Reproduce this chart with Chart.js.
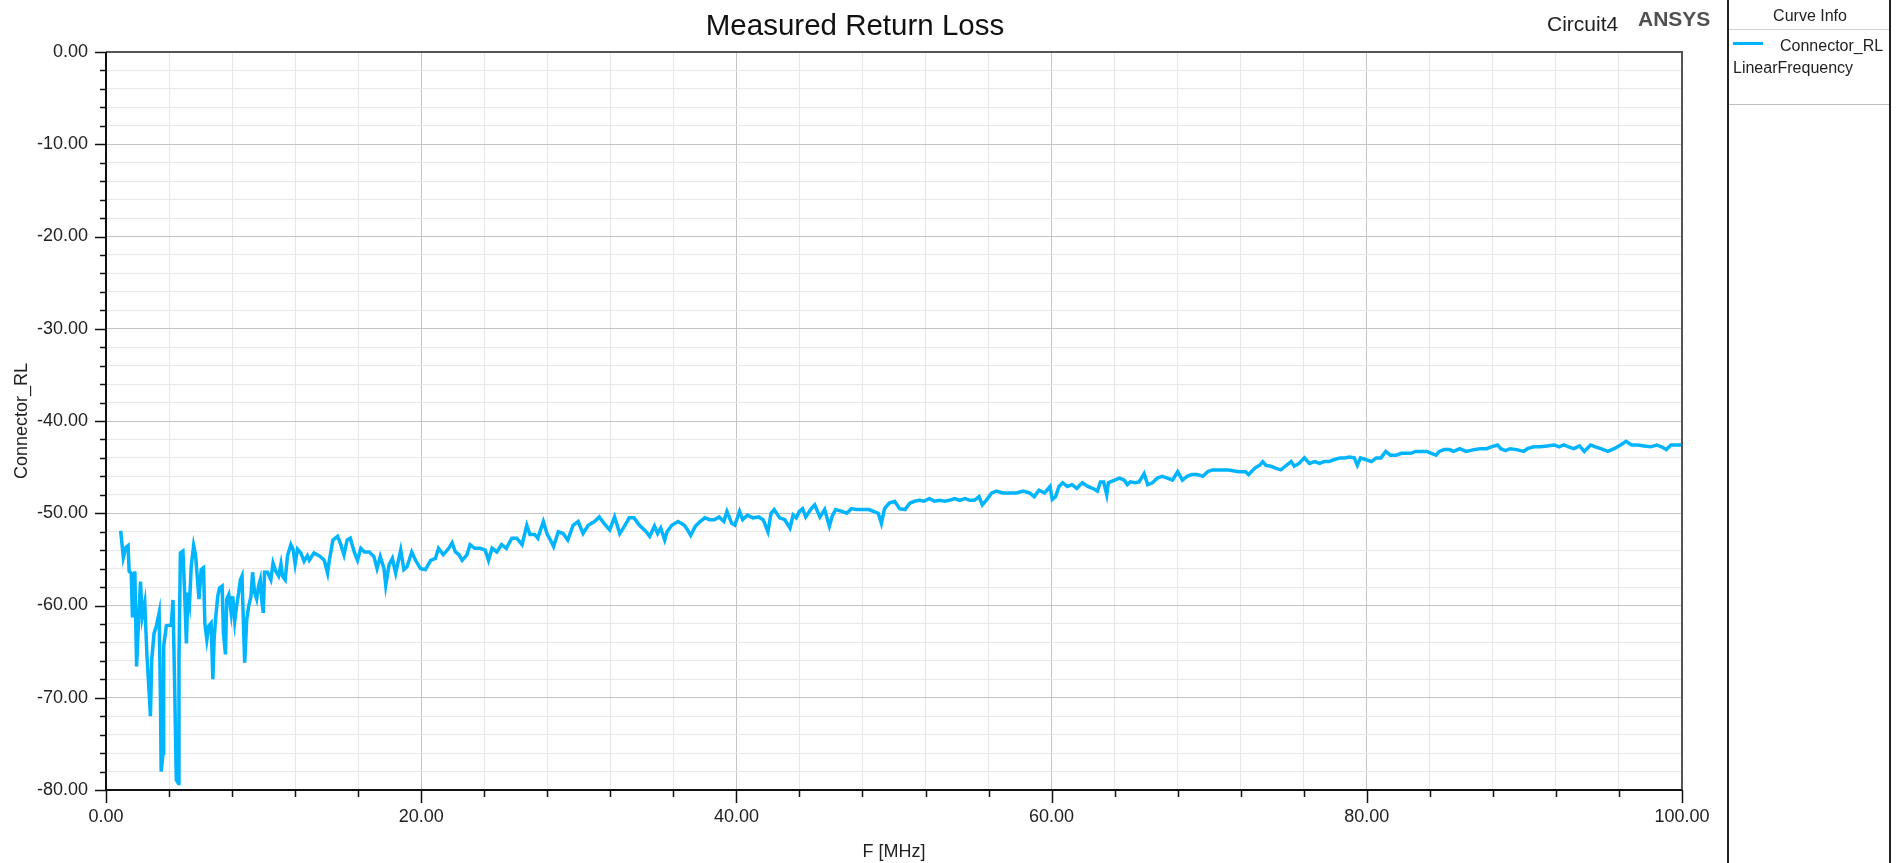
<!DOCTYPE html>
<html>
<head>
<meta charset="utf-8">
<title>Measured Return Loss</title>
<script src="https://cdn.jsdelivr.net/npm/chart.js@4/dist/chart.umd.min.js"></script>
<style>
  body { margin: 0; background: #fff; font-family: "Liberation Sans", Arial, sans-serif; }
  #wrap { position: relative; width: 1896px; height: 863px; overflow: hidden; }
  #chart { position: absolute; left: 0; top: 0; }
  .txt { position: absolute; line-height: 1; white-space: nowrap; color: #222; }
  #title { left: 655px; width: 400px; top: 10px; font-size: 29.5px; text-align: center; color: #111; }
  #circuit { left: 1547px; top: 13px; font-size: 21px; }
  #ansys { left: 1638px; top: 8px; font-size: 21px; font-weight: bold; color: #505050; }
  #panel { position: absolute; left: 1727px; top: 0; width: 164px; height: 863px;
           box-sizing: border-box; border-left: 2px solid #222; border-right: 2px solid #222; }
  .rule { position: absolute; left: 0; right: 0; height: 1px; }
  #swatch { position: absolute; left: 1733px; top: 41.5px; width: 30px; height: 3px; background: #00B4FF; }
</style>
</head>
<body>
<div id="wrap">
  <canvas id="chart" width="1896" height="863"></canvas>
  <div class="txt" id="title">Measured Return Loss</div>
  <div class="txt" id="circuit">Circuit4</div>
  <div class="txt" id="ansys">ANSYS</div>
  <div id="panel">
    <div class="rule" style="top:29px;background:#cfcfcf"></div>
    <div class="rule" style="top:104px;background:#bdbdbd"></div>
  </div>
  <div class="txt" style="left:1772px;width:76px;text-align:center;top:8px;font-size:16px">Curve Info</div>
  <div id="swatch"></div>
  <div class="txt" style="left:1780px;top:38px;font-size:16px">Connector_RL</div>
  <div class="txt" style="left:1733px;top:60px;font-size:16px">LinearFrequency</div>
</div>
<script>
// F [MHz]
const freqMHz = [
  0.93, 1.1, 1.26, 1.4, 1.47, 1.6, 1.68, 1.83, 1.94, 2.1, 2.19, 2.3, 2.46, 2.6, 2.74, 2.82, 2.9, 3.05, 3.2, 3.37,
  3.45, 3.5, 3.62, 3.66, 3.83, 4.15, 4.25, 4.36, 4.46, 4.6, 4.63, 4.72, 4.88, 4.99, 5.1, 5.2, 5.3, 5.41, 5.56, 5.68,
  5.77, 5.9, 6.04, 6.19, 6.27, 6.4, 6.53, 6.67, 6.78, 6.86, 6.95, 7.09, 7.2, 7.37, 7.45, 7.58, 7.66, 7.79, 7.94, 8.04,
  8.17, 8.3, 8.42, 8.53, 8.63, 8.72, 8.8, 8.93, 9.05, 9.2, 9.3, 9.43, 9.56, 9.68, 9.79, 9.9, 9.98, 10.06, 10.25, 10.46,
  10.6, 10.78, 10.95, 11.1, 11.2, 11.37, 11.52, 11.73, 11.87, 12.0, 12.15, 12.36, 12.57, 12.78,
  12.9, 13.2, 13.6, 13.85, 14.06, 14.17, 14.4, 14.7, 14.9, 15.1, 15.3, 15.5, 15.75, 15.96, 16.17, 16.4, 16.7, 17.0,
  17.2, 17.4, 17.64, 17.75, 17.96, 18.17, 18.38, 18.7, 18.9, 19.1, 19.4, 19.64, 19.96, 20.27, 20.6, 20.9, 21.1, 21.4,
  21.75, 21.96, 22.17, 22.4, 22.6, 22.9, 23.1, 23.4, 23.75, 24.06, 24.27, 24.5, 24.8, 25.1, 25.4, 25.75, 26.06, 26.4,
  26.7, 26.9, 27.2, 27.4, 27.75, 28.0, 28.2, 28.4, 28.7, 29.0, 29.3, 29.64, 29.96, 30.27, 30.6, 31.0, 31.3, 31.6,
  31.96, 32.27, 32.6, 32.9, 33.2, 33.5, 33.85, 34.27,
  34.5, 34.8, 35.0, 35.2, 35.45, 35.6, 35.9, 36.3, 36.7, 36.9, 37.1, 37.4, 37.7, 38.0, 38.3, 38.6, 38.9, 39.2, 39.4,
  39.7, 39.9, 40.2, 40.4, 40.7, 41.05, 41.4, 41.7, 42.0, 42.2, 42.4, 42.75, 43.07, 43.4, 43.6, 43.8, 44.0, 44.2, 44.4,
  44.75, 44.97, 45.3, 45.6, 45.9, 46.1, 46.3, 46.7, 47.0, 47.3, 47.6, 48.0, 48.4, 48.7, 49.0, 49.2, 49.4, 49.7, 50.04,
  50.36, 50.7, 51.0, 51.3, 51.6, 51.9, 52.25, 52.57, 52.9, 53.2, 53.5, 53.85, 54.16, 54.5, 54.8, 55.1, 55.4, 55.6,
  55.85, 56.2, 56.5, 56.9, 57.3, 57.76, 58.2, 58.6, 58.9, 59.2, 59.56, 59.9,
  60.04, 60.25, 60.47, 60.7, 61.0, 61.3, 61.6, 61.95, 62.3, 62.6, 62.9, 63.1, 63.3, 63.5, 63.6, 64.0, 64.3, 64.6,
  64.8, 65.0, 65.3, 65.55, 65.87, 66.1, 66.4, 66.7, 67.0, 67.35, 67.67, 68.0, 68.3, 68.6, 68.9, 69.25, 69.6, 69.9,
  70.2, 70.5, 70.85, 71.2, 71.5, 71.9, 72.3, 72.5, 72.9, 73.2, 73.4, 73.6, 73.9, 74.2, 74.55, 74.9, 75.2, 75.4, 75.7,
  76.04, 76.36, 76.7, 77.0, 77.3, 77.6, 77.9, 78.3, 78.6, 78.9, 79.2, 79.4, 79.6, 79.96, 80.3, 80.6, 80.9, 81.2, 81.5,
  81.86, 82.2, 82.5, 82.8, 83.1, 83.45, 83.8, 84.1, 84.4, 84.6, 84.9, 85.25,
  85.5, 85.9, 86.3, 86.8, 87.2, 87.6, 87.9, 88.3, 88.5, 88.8, 89.1, 89.5, 89.96, 90.2, 90.6, 91.0, 91.45, 91.9, 92.2,
  92.5, 92.8, 93.15, 93.5, 93.8, 94.2, 94.5, 94.85, 95.3, 95.7, 96.1, 96.45, 96.8, 97.2, 97.6, 98.0, 98.4, 98.7, 99.0,
  99.3, 99.6, 100.0
];

// Connector_RL [dB]
const connectorRL = [
  -51.9, -54.8, -53.7, -53.5, -56.3, -56.5, -61.3, -56.3, -66.6, -60.4, -57.4, -61.2, -59.7, -65.5, -69.5, -72, -65.9, -63, -62.2, -60.8,
  -69.5, -78, -76, -64.4, -62.2, -62.1, -59.4, -69.1, -78.9, -79.3, -65.9, -54.3, -54.1, -58.6, -64.1, -58.6, -59.7, -55.7, -53.5, -54.5,
  -56.4, -59.3, -56.1, -55.9, -61.9, -63.7, -62.2, -61.9, -68, -63.7, -61.5, -59, -58.1, -57.9, -63, -65.3, -59.3, -58.8, -60.8, -59,
  -61.7, -59.9, -58.6, -57.2, -56.8, -61.9, -66.2, -61.5, -60.1, -59, -56.4, -58.6, -59.3, -57.9, -57.2, -59.7, -60.8, -56.4, -56.4, -57.2,
  -55.4, -56.3, -56.8, -55.5, -56.8, -57.2, -54.6, -53.4, -53.9, -55.5, -53.9, -54.3, -55.2, -54.6,
  -55.1, -54.3, -54.7, -55.1, -56.5, -55.1, -52.9, -52.5, -53.4, -54.5, -52.9, -52.7, -54.2, -55.1, -53.8, -54.2, -54.2, -54.7,
  -56.0, -54.7, -56.0, -57.8, -55.6, -54.9, -56.5, -54.0, -56.1, -55.8, -54.2, -55.1, -56.0, -56.1, -55.1, -54.9, -53.8, -54.5,
  -53.8, -53.2, -54.2, -54.5, -55.1, -54.5, -53.4, -53.8, -53.8, -54.0, -55.1, -53.8, -54.2, -53.4, -53.8, -52.7, -52.7, -53.4,
  -51.3, -52.3, -52.3, -52.7, -50.9, -52.3, -52.9, -53.6, -52.0, -52.2, -52.9, -51.3, -50.9, -52.2, -51.3, -50.9, -50.4, -51.1,
  -51.8, -50.4, -52.2, -51.4, -50.5, -50.5, -51.3, -52.0,
  -52.5, -51.4, -52.2, -51.6, -52.9, -52.0, -51.3, -50.9, -51.3, -51.8, -52.4, -51.4, -50.9, -50.5, -50.7, -50.7, -50.4, -50.9, -49.8,
  -51.1, -51.3, -49.8, -50.7, -50.2, -50.5, -50.4, -50.7, -52.0, -50.0, -49.6, -50.5, -50.7, -51.6, -50.2, -50.5, -49.8, -49.5, -50.4,
  -49.5, -49.1, -50.4, -49.6, -51.4, -50.2, -49.6, -49.8, -50.0, -49.5, -49.6, -49.6, -49.6, -49.8, -50.0, -51.1, -49.5, -48.9, -48.7,
  -49.5, -49.6, -48.9, -48.7, -48.6, -48.7, -48.4, -48.7, -48.6, -48.7, -48.6, -48.4, -48.6, -48.4, -48.6, -48.6, -48.2, -49.1,
  -48.6, -47.8, -47.6, -47.8, -47.8, -47.8, -47.6, -47.8, -48.2, -47.5, -47.8, -47.1,
  -48.5, -48.2, -47.1, -46.7, -47.1, -46.9, -47.3, -46.7, -47.1, -47.3, -47.6, -46.6, -46.6, -48.0, -46.7, -46.4, -46.2, -46.4,
  -46.9, -46.6, -46.7, -46.6, -45.7, -46.9, -46.7, -46.2, -46.0, -46.2, -46.4, -45.5, -46.4, -46.0, -45.8, -45.8, -46.0, -45.5,
  -45.3, -45.3, -45.3, -45.3, -45.4, -45.5, -45.5, -45.8, -45.1, -44.8, -44.4, -44.8, -44.9, -45.1, -45.3, -44.8, -44.4, -44.9, -44.6,
  -44.0, -44.6, -44.4, -44.6, -44.4, -44.4, -44.2, -44.0, -44.0, -43.9, -44.0, -44.8, -44.0, -44.2, -44.4, -44.0, -44.0, -43.3, -43.7,
  -43.7, -43.5, -43.5, -43.5, -43.3, -43.3, -43.3, -43.5, -43.7, -43.3, -43.1, -43.1,
  -43.3, -43.0, -43.3, -43.1, -43.0, -43.0, -42.8, -42.6, -43.0, -43.2, -43.0, -43.1, -43.3, -43.0, -42.8, -42.8, -42.7, -42.6, -42.8,
  -42.6, -42.8, -43.0, -42.7, -43.3, -42.6, -42.8, -43.0, -43.3, -43.0, -42.6, -42.2, -42.6, -42.6, -42.7, -42.8, -42.6, -42.8, -43.1,
  -42.6, -42.6, -42.6
];

// labelled ticks
const xTickLabels = [0, 20, 40, 60, 80, 100];
const yTickLabels = [0, -10, -20, -30, -40, -50, -60, -70, -80];

const lineColor = '#00B4FF';
const isMajor = (list, v) => list.includes(Math.round(v));

// minor/major tick marks and the plot frame
const frameAndTicks = {
  id: 'frameAndTicks',
  afterDraw(chart) {
    const { ctx, chartArea: a, scales: { x, y } } = chart;
    ctx.save();
    ctx.strokeStyle = '#111';
    ctx.lineWidth = 1.5;
    ctx.beginPath();
    x.ticks.forEach(t => {
      const px = Math.round(x.getPixelForValue(t.value)) + 0.5;
      const len = isMajor(xTickLabels, t.value) ? 13 : 7;
      ctx.moveTo(px, a.bottom);
      ctx.lineTo(px, a.bottom + len);
    });
    y.ticks.forEach(t => {
      const py = Math.round(y.getPixelForValue(t.value)) + 0.5;
      const len = isMajor(yTickLabels, t.value) ? 11 : 6;
      ctx.moveTo(a.left, py);
      ctx.lineTo(a.left - len, py);
    });
    ctx.stroke();

    ctx.lineWidth = 2;
    ctx.strokeStyle = '#555';
    ctx.beginPath();
    ctx.moveTo(a.left, a.top);
    ctx.lineTo(a.right, a.top);
    ctx.lineTo(a.right, a.bottom);
    ctx.stroke();
    ctx.strokeStyle = '#111';
    ctx.beginPath();
    ctx.moveTo(a.left, a.top);
    ctx.lineTo(a.left, a.bottom);
    ctx.lineTo(a.right, a.bottom);
    ctx.stroke();
    ctx.restore();
  }
};

const tickFont = { family: '"Liberation Sans", Arial, sans-serif', size: 18 };

new Chart(document.getElementById('chart'), {
  type: 'line',
  data: {
    datasets: [{
      label: 'Connector_RL',
      data: freqMHz.map((f, i) => ({ x: f, y: connectorRL[i] })),
      borderColor: lineColor,
      borderWidth: 3.5,
      pointRadius: 0,
      tension: 0,
      fill: false
    }]
  },
  options: {
    responsive: false,
    animation: false,
    events: [],
    layout: { padding: { left: 0, top: 52, right: 214, bottom: 0 } },
    plugins: { legend: { display: false }, title: { display: false }, tooltip: { enabled: false } },
    scales: {
      x: {
        type: 'linear',
        min: 0,
        max: 100,
        afterFit: s => { s.height = 73; },
        ticks: {
          stepSize: 4,
          autoSkip: false,
          maxRotation: 0,
          padding: 16,
          color: '#222',
          font: tickFont,
          callback: v => isMajor(xTickLabels, v) ? Number(v).toFixed(2) : ''
        },
        grid: {
          drawTicks: false,
          color: c => isMajor(xTickLabels, c.tick.value) ? '#c4c4c4' : '#e8e8e8'
        },
        border: { display: false },
        title: { display: true, text: 'F [MHz]', color: '#222', font: tickFont, padding: { top: 6, bottom: 0 } }
      },
      y: {
        min: -80,
        max: 0,
        afterFit: s => { s.width = 106; },
        ticks: {
          stepSize: 2,
          autoSkip: false,
          padding: 18,
          color: '#222',
          font: tickFont,
          callback: v => isMajor(yTickLabels, v) ? Number(v).toFixed(2) : ''
        },
        grid: {
          drawTicks: false,
          color: c => isMajor(yTickLabels, c.tick.value) ? '#c4c4c4' : '#e8e8e8'
        },
        border: { display: false },
        title: { display: true, text: 'Connector_RL', color: '#222', font: tickFont, padding: { top: 11, bottom: 0 } }
      }
    }
  },
  plugins: [frameAndTicks]
});
</script>
</body>
</html>
